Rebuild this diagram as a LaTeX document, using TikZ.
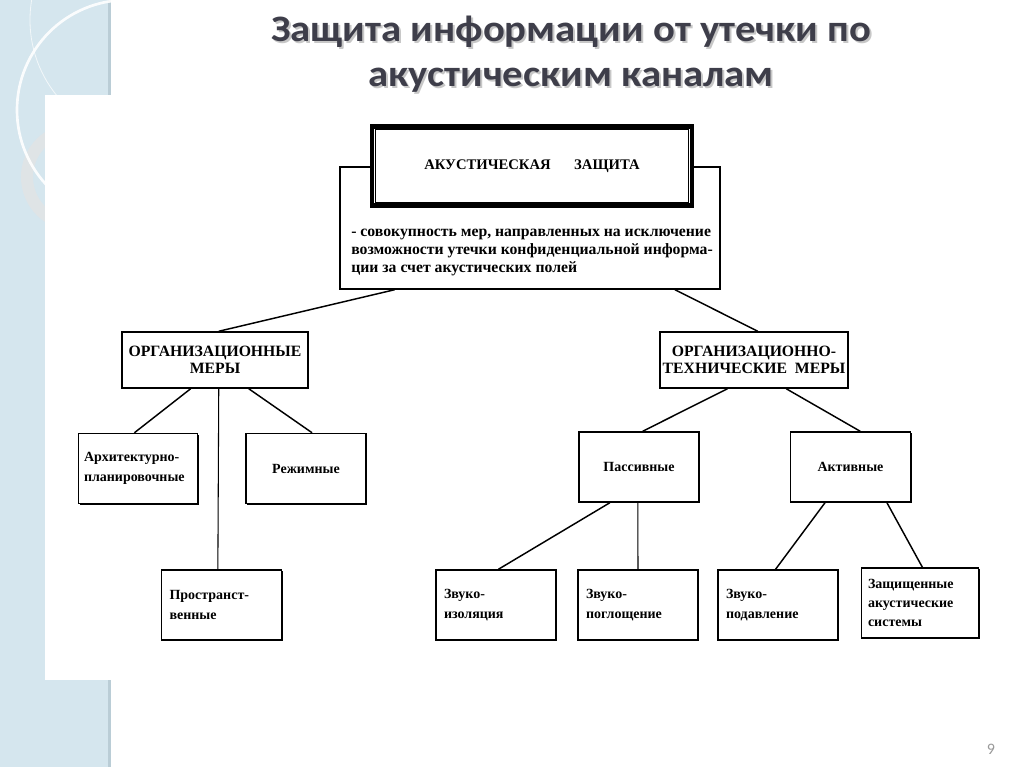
\documentclass[tikz,border=0pt]{standalone}
\usepackage{fontspec}
\setmainfont{Liberation Serif}
\newfontfamily\titlefont{Carlito}
\usepackage{xcolor}
\usetikzlibrary{shapes,arrows,positioning,fit,calc,shadows}

\definecolor{slideblue}{RGB}{213,230,238}
\definecolor{slideedge}{RGB}{186,205,214}
\definecolor{ringgray}{RGB}{226,228,229}
\definecolor{titlegray}{RGB}{62,62,74}

\begin{document}
\begin{tikzpicture}[
    x=0.75pt, y=-0.75pt,
    box/.style = {draw, fill=white, line width=1.1pt, inner sep=0pt,
      font=\bfseries\fontsize{10.5}{14.5}\selectfont,
      general shadow={fill=black, shadow xshift=1.1pt, shadow yshift=-1.1pt}},
    midbox/.style = {box, align=center, minimum width=90pt, minimum height=52.5pt},
    leaf/.style = {box, align=left, text width=78pt, inner xsep=6pt, minimum height=52.5pt},
    headbox/.style = {box, align=center, minimum height=42pt,
      font=\bfseries\fontsize{11.8}{13}\selectfont},
    titletext/.style = {anchor=base, xscale=1.09, inner sep=0pt,
      font=\titlefont\bfseries\fontsize{28}{30}\selectfont}
  ]
  \useasboundingbox (0,0) rectangle (1024,767);
  \fill[white] (0,0) rectangle (1024,767);

  % фон слайда
  \fill[slideblue] (0,0) rectangle (111,767);
  \fill[slideedge] (108,0) rectangle (111,767);
  \begin{scope}
    \clip (0,0) rectangle (111,767);
    \draw[ringgray, line width=9pt, opacity=.8] (75,177) circle (36pt);
    \draw[white, line width=2pt, opacity=.9] (127,110) circle (82.5pt);
    \draw[white, line width=.6pt, opacity=.7] (150,20) circle (90pt);
  \end{scope}
  \fill[white] (45,95) rectangle (1024,680);

  % заголовок
  \node[titletext, text=black!22] (tsh1) at (573,44) {Защита информации от утечки по};
  \node[titletext, text=black!22] (tsh2) at (573,89) {акустическим каналам};
  \node[titletext, text=titlegray] (title1) at (571,42) {Защита информации от утечки по};
  \node[titletext, text=titlegray] (title2) at (571,87) {акустическим каналам};

  % верхний блок
  \node[box, minimum width=285pt, minimum height=91.5pt] (dsc) at (530,228) {};
  \node[anchor=base west, inner sep=0pt, align=left,
    font=\bfseries\fontsize{11.8}{13.5}\selectfont] (dtx) at (351,272)
    {- совокупность мер, направленных на исключение\\
     возможности утечки конфиденциальной информа-\\
     ции за счет акустических полей};
  \node[box, line width=3.6pt, minimum width=240pt, minimum height=59pt,
    font=\bfseries\fontsize{11}{13}\selectfont] (ttl) at (532,166)
    {АКУСТИЧЕСКАЯ\hspace{1.6em}ЗАЩИТА};
  \draw[line width=.8pt] ($(ttl.south west)+(5.5,-5.5)$) rectangle ($(ttl.north east)+(-5.5,5.5)$);

  % второй уровень
  \node[headbox, minimum width=139.5pt] (org) at (215,360) {ОРГАНИЗАЦИОННЫЕ\\МЕРЫ};
  \node[headbox, minimum width=141pt] (otm) at (754,360)
    {ОРГАНИЗАЦИОННО-\\ТЕХНИЧЕСКИЕ\hspace{.5em}МЕРЫ};

  % организационные меры
  \node[leaf, text width=81pt, inner xsep=4pt] (arh) at (138,468.5) {Архитектурно-\\планировочные};
  \node[midbox] (rez) at (306,468.5) {Режимные};
  \node[leaf] (prs) at (221.5,605) {Пространст-\\венные};

  % организационно-технические меры
  \node[midbox] (pas) at (639,467) {Пассивные};
  \node[midbox] (akt) at (850.5,467) {Активные};
  \node[leaf] (zi) at (496,605) {Звуко-\\изоляция};
  \node[leaf] (zp) at (638,605) {Звуко-\\поглощение};
  \node[leaf] (zpd) at (778,605) {Звуко-\\подавление};
  \node[leaf, inner xsep=5pt] (zas) at (920,603) {Защищенные\\акустические\\системы};

  % связи
  \draw[line width=1.1pt] ($(dsc.south west)!.145!(dsc.south east)$) -- ($(org.north west)!.52!(org.north east)$);
  \draw[line width=1.1pt] ($(dsc.south west)!.88!(dsc.south east)$) -- ($(otm.north west)!.52!(otm.north east)$);
  \draw[line width=1.1pt] ($(org.south west)!.37!(org.south east)$) -- ($(arh.north west)!.47!(arh.north east)$);
  \draw[line width=1.1pt] ($(org.south west)!.68!(org.south east)$) -- ($(rez.north west)!.55!(rez.north east)$);
  \draw[line width=.8pt] ($(org.south west)!.52!(org.south east)$) -- ($(prs.north west)!.47!(prs.north east)$);
  \draw[line width=1.1pt] ($(otm.south west)!.36!(otm.south east)$) -- ($(pas.north west)!.53!(pas.north east)$);
  \draw[line width=1.1pt] ($(otm.south west)!.67!(otm.south east)$) -- ($(akt.north west)!.58!(akt.north east)$);
  \draw[line width=1.1pt] ($(pas.south west)!.26!(pas.south east)$) -- ($(zi.north west)!.52!(zi.north east)$);
  \draw[line width=.8pt] ($(pas.south west)!.49!(pas.south east)$) -- ($(zp.north west)!.5!(zp.north east)$);
  \draw[line width=1.1pt] ($(akt.south west)!.29!(akt.south east)$) -- ($(zpd.north west)!.48!(zpd.north east)$);
  \draw[line width=1.1pt] ($(akt.south west)!.8!(akt.south east)$) -- ($(zas.north west)!.52!(zas.north east)$);

  % номер слайда
  \node[text=black!40, font=\titlefont\fontsize{12}{12}\selectfont] (pgn) at (991,749) {9};
\end{tikzpicture}
\end{document}
